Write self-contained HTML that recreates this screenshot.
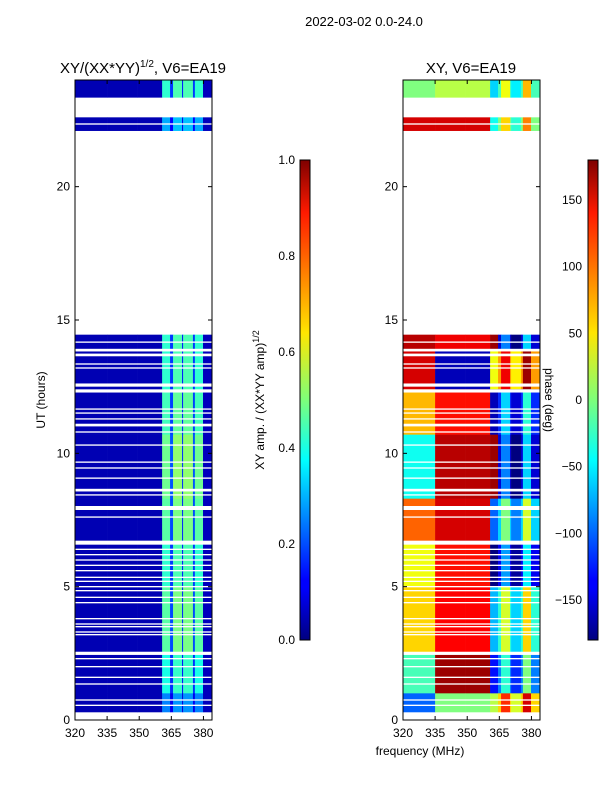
<!DOCTYPE html>
<html><head><meta charset="utf-8"><style>
html,body{margin:0;padding:0;background:#fff;width:600px;height:800px;overflow:hidden}
svg{display:block;font-family:"Liberation Sans",sans-serif}
</style></head><body>
<svg id="fig" width="600" height="800" xmlns="http://www.w3.org/2000/svg">
<defs>
<linearGradient id="jetg" x1="0" y1="1" x2="0" y2="0">
<stop offset="0" stop-color="#00007f"/><stop offset="0.11" stop-color="#0000ff"/><stop offset="0.125" stop-color="#0000ff"/>
<stop offset="0.34" stop-color="#00dcff"/><stop offset="0.375" stop-color="#00ffff"/><stop offset="0.5" stop-color="#7dff7a"/>
<stop offset="0.64" stop-color="#ffe600"/><stop offset="0.66" stop-color="#ffd400"/><stop offset="0.89" stop-color="#ff1a00"/><stop offset="1" stop-color="#7f0000"/>
</linearGradient>
</defs>
<text x="364" y="26" font-size="13" text-anchor="middle">2022-03-02 0.0-24.0</text>
<text x="143" y="73" font-size="15" text-anchor="middle">XY/(XX*YY)<tspan font-size="10" dy="-6">1/2</tspan><tspan dy="6">, V6=EA19</tspan></text>
<text x="471" y="73" font-size="15" text-anchor="middle">XY, V6=EA19</text>
<text x="420" y="755" font-size="12" text-anchor="middle">frequency (MHz)</text>
<text transform="translate(45,400) rotate(-90)" font-size="12" text-anchor="middle">UT (hours)</text>
<text transform="translate(264,400) rotate(-90)" font-size="12" text-anchor="middle">XY amp. / (XX*YY amp)<tspan font-size="9" dy="-5">1/2</tspan></text>
<text transform="translate(545,400) rotate(90)" font-size="12" text-anchor="middle">phase (deg)</text>
<g id="L"></g>
<g id="R"></g>
<g id="A"></g>
<rect x="300" y="160" width="10" height="480" fill="url(#jetg)" stroke="#000" stroke-width="1"/>
<rect x="588" y="160" width="10" height="480" fill="url(#jetg)" stroke="#000" stroke-width="1"/>
</svg>
<script>
// ---- data ----
const freqEdges=[320,335,349,360.7,364.4,365.8,370,370.5,375.1,376,379.8,384];
const ampLevel=[0.05,0.05,0.05,0.42,0.18,0.45,0.15,0.45,0.18,0.42,0.06];
const chanPhaseOffset=[0,0,0,-40,0,60,0,-30,0,90,0];
const segStart=[23.35,22.1,13.9,12.4,10.7,8.3,6.6,5.0,2.5,1.0,0.3];
const segEnd=[24.0,22.6,14.45,13.9,12.4,10.7,8.3,6.6,5.0,2.5,1.0];
const segGain=[1.0,0.7,1.0,1.0,1.05,1.15,1.1,1.0,1.1,0.95,0.6];
const phaseLeft=[0,150,160,150,70,-40,100,40,60,-20,-100];
const phaseMid=[20,150,140,-160,130,160,150,130,135,170,0];
const phaseRight=[-20,0,-150,80,-120,-150,-60,-140,-30,-90,60];
const gapHour=[22.35,14.17,13.87,13.69,13.35,13.2,12.56,12.34,11.66,11.51,11.29,11.06,10.8,10.31,9.67,9.45,9.07,8.62,8.44,7.95,7.61,6.65,6.4,6.2,6.0,5.8,5.6,5.35,5.2,5.0,4.85,4.6,4.4,3.8,3.6,3.5,3.3,3.2,2.5,2.3,2.0,1.6,1.35,0.75,0.55];
const gapWidth=[0.05,0.05,0.1,0.1,0.05,0.05,0.12,0.12,0.05,0.05,0.05,0.1,0.05,0.05,0.05,0.05,0.05,0.1,0.05,0.15,0.05,0.15,0.05,0.05,0.05,0.05,0.05,0.05,0.05,0.05,0.05,0.05,0.05,0.05,0.05,0.05,0.05,0.05,0.12,0.05,0.05,0.05,0.05,0.05,0.05];
const yTicks=[0,5,10,15,20];
const xTicks=[320,335,350,365,380];
const ampTicks=[0.0,0.2,0.4,0.6,0.8,1.0];
const phaseTicks=[-150,-100,-50,0,50,100,150];
// ---- scales ----
const NS="http://www.w3.org/2000/svg";
const PT=80,PB=720,LX=75,RX=403,PW=137;
const y=h=>PB-(h/24)*(PB-PT);
const xs=(x0)=>f=>x0+(f-320)/64*PW;
function jet(v){v=Math.max(0,Math.min(1,v));const c=t=>Math.round(255*Math.max(0,Math.min(1,1.5-Math.abs(4*v-t))));return `rgb(${c(3)},${c(2)},${c(1)})`;}
function rect(g,x,yy,w,h,fill,name){const r=document.createElementNS(NS,'rect');r.setAttribute('x',x);r.setAttribute('y',yy);r.setAttribute('width',w);r.setAttribute('height',h);r.setAttribute('fill',fill);


g.appendChild(r);return r;}
function line(g,x1,y1,x2,y2,name){const l=document.createElementNS(NS,'line');l.setAttribute('x1',x1);l.setAttribute('y1',y1);l.setAttribute('x2',x2);l.setAttribute('y2',y2);l.setAttribute('stroke','#000');


g.appendChild(l);}
function text(g,x,yy,s,anchor,name){const t=document.createElementNS(NS,'text');t.setAttribute('x',x);t.setAttribute('y',yy);t.setAttribute('font-size','12');t.setAttribute('text-anchor',anchor);t.textContent=s;


g.appendChild(t);}
const L=document.getElementById('L'),R=document.getElementById('R'),A=document.getElementById('A');
const xl=xs(LX),xr=xs(RX);
for(let s=0;s<segStart.length;s++){
  const y0=y(segEnd[s]),h=y(segStart[s])-y0;
  for(let c=0;c<ampLevel.length;c++){
    const f0=freqEdges[c],f1=freqEdges[c+1];
    rect(L,xl(f0),y0,xl(f1)-xl(f0)+0.3,h+0.3,jet(Math.min(0.95,ampLevel[c]*(ampLevel[c]>0.1?segGain[s]:1))),'amp-cell');
    let p=f1<=335?phaseLeft[s]:(f1<=360.7?phaseMid[s]:phaseRight[s]+chanPhaseOffset[c]);
    p=((p+180)%360+360)%360-180;
    rect(R,xr(f0),y0,xr(f1)-xr(f0)+0.3,h+0.3,jet((p+180)/360),'phase-cell');
  }
}
for(let i=0;i<gapHour.length;i++){
  const y0=y(gapHour[i]+gapWidth[i]/2),h=Math.max(1,y(gapHour[i]-gapWidth[i]/2)-y0);
  rect(L,LX,y0,PW,h,'#fff','amp-gap');
  rect(R,RX,y0,PW,h,'#fff','phase-gap');
}
// axes
[LX,RX].forEach((x0,k)=>{
  const r=rect(A,x0,PT,PW,PB-PT,'none',k?'phase-axes-frame':'amp-axes-frame');r.setAttribute('stroke','#000');
  const sx=xs(x0);
  yTicks.forEach(v=>{line(A,x0,y(v),x0+4,y(v),'y-tick');line(A,x0+PW,y(v),x0+PW-4,y(v),'y-tick');text(A,x0-5,y(v)+4,String(v),'end','y-tick-label');});
  xTicks.forEach(v=>{line(A,sx(v),PB,sx(v),PB-4,'x-tick');line(A,sx(v),PT,sx(v),PT+4,'x-tick');text(A,sx(v),PB+17,String(v),'middle','x-tick-label');});
});
ampTicks.forEach(v=>{const yy=640-v*480;line(A,300,yy,304,yy,'amp-cbar-tick');line(A,310,yy,306,yy,'amp-cbar-tick');text(A,295,yy+4,v.toFixed(1),'end','amp-cbar-label');});
phaseTicks.forEach(v=>{const yy=640-(v+180)/360*480;line(A,588,yy,592,yy,'phase-cbar-tick');line(A,598,yy,594,yy,'phase-cbar-tick');text(A,582,yy+4,v<0?'\u2212'+(-v):String(v),'end','phase-cbar-label');});
</script>
</body></html>
